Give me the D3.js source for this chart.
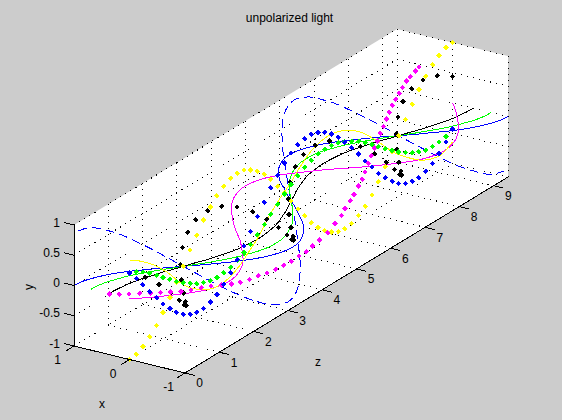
<!DOCTYPE html>
<html lang="en">
<head>
<meta charset="UTF-8">
<title>unpolarized light</title>
<script src="https://cdn.jsdelivr.net/npm/d3@7"></script>
<style>
  body { margin: 0; background: #cccccc; }
  svg { display: block; }
  text { font-family: "Liberation Sans", Arial, sans-serif; font-size: 12px; fill: #000; }
  .grid { stroke: #000; stroke-width: 1; stroke-dasharray: 1 5; shape-rendering: crispEdges; fill: none; }
  .axis { stroke: #000; stroke-width: 1; fill: none; shape-rendering: crispEdges; }
  .curve { fill: none; stroke-width: 1; shape-rendering: crispEdges; }
</style>
</head>
<body>
<div id="chart"></div>
<script>
// ticks
const xTicks = [-1, 0, 1];
const yTicks = [-1, -0.5, 0, 0.5, 1];
const zTicks = [0, 1, 2, 3, 4, 5, 6, 7, 8, 9];
const zMax = 9.42;

// sample positions along z shared by the marker series and most lines
const zGrid = [0,.2,.39,.59,.79,.98,1.18,1.37,1.57,1.77,1.96,2.16,2.36,2.55,2.75,2.95,3.14,3.34,3.53,3.73,3.93,4.12,4.32,4.52,4.71,4.91,5.11,5.3,5.5,5.69,5.89,6.09,6.28,6.48,6.68,6.87,7.07,7.26,7.46,7.66,7.85,8.05,8.25,8.44,8.64,8.84,9.03,9.23,9.42];

const zeros = [0,0,0,0,0,0,0,0,0,0,0,0,0,0,0,0,0,0,0,0,0,0,0,0,0,0,0,0,0,0,0,0,0,0,0,0,0,0,0,0,0,0,0,0,0,0,0,0,0];

// marker series
const blackDotsX = [0,-.16,-.29,-.38,-.41,-.38,-.29,-.16,0,.16,.29,.38,.41,.38,.29,.16,0,-.16,-.29,-.38,-.41,-.38,-.29,-.16,0,.16,.29,.38,.41,.38,.29,.16,0,-.16,-.29,-.38,-.41,-.38,-.29,-.16,0,.16,.29,.38,.41,.38,.29,.16,0];
const blackDotsY = [.44,.33,.17,-.02,-.2,-.35,-.45,-.48,-.44,-.33,-.17,.02,.2,.35,.45,.48,.44,.33,.17,-.02,-.2,-.35,-.45,-.48,-.44,-.33,-.17,.02,.2,.35,.45,.48,.44,.33,.17,-.02,-.2,-.35,-.45,-.48,-.44,-.33,-.17,.02,.2,.35,.45,.48,.44];
const yellowDotsY = [-1,-.98,-.92,-.83,-.71,-.56,-.38,-.2,0,.2,.38,.56,.71,.83,.92,.98,1,.98,.92,.83,.71,.56,.38,.2,0,-.2,-.38,-.56,-.71,-.83,-.92,-.98,-1,-.98,-.92,-.83,-.71,-.56,-.38,-.2,0,.2,.38,.56,.71,.83,.92,.98,1];
const magentaDotsX = [.36,.31,.25,.18,.11,.05,-.01,-.08,-.14,-.2,-.26,-.32,-.38,-.42,-.46,-.5,-.54,-.57,-.6,-.61,-.63,-.64,-.63,-.63,-.66,-.67,-.66,-.61,-.58,-.53,-.49,-.43,-.36,-.3,-.23,-.17,-.1,-.03,.03,.1,.17,.24,.3,.35,.42,.47,.52,.55,.6];
const magentaDotsY = [0,-.06,-.11,-.15,-.2,-.24,-.29,-.33,-.36,-.38,-.4,-.44,-.48,-.51,-.52,-.52,-.53,-.53,-.52,-.52,-.5,-.49,-.47,-.44,-.38,-.29,-.23,-.19,-.14,-.11,-.05,-.02,.02,.08,.12,.17,.2,.25,.28,.32,.35,.38,.4,.42,.43,.46,.45,.47,.46];
const greenDotsY = [.44,.38,.31,.22,.12,.02,-.08,-.18,-.27,-.35,-.42,-.47,-.51,-.52,-.51,-.49,-.44,-.38,-.31,-.22,-.12,-.02,.08,.18,.27,.35,.42,.47,.51,.52,.51,.49,.44,.38,.31,.22,.12,.02,-.08,-.18,-.27,-.35,-.42,-.47,-.51,-.52,-.51,-.49,-.44];
const blueDotsY = [.43,.27,.1,-.08,-.25,-.42,-.56,-.69,-.79,-.86,-.89,-.9,-.86,-.8,-.7,-.58,-.43,-.27,-.1,.08,.25,.42,.56,.69,.79,.86,.89,.9,.86,.8,.7,.58,.43,.27,.1,-.08,-.25,-.42,-.56,-.69,-.79,-.86,-.89,-.9,-.86,-.8,-.7,-.58,-.43];

// line series
const blueLineX = [1,.98,.92,.83,.71,.56,.38,.2,0,-.2,-.38,-.56,-.71,-.83,-.92,-.98,-1,-.98,-.92,-.83,-.71,-.56,-.38,-.2,0,.2,.38,.56,.71,.83,.92,.98,1,.98,.92,.83,.71,.56,.38,.2,0,-.2,-.38,-.56,-.71,-.83,-.92,-.98,-1];
const greenLineX = [.7,.69,.65,.58,.5,.39,.27,.14,0,-.14,-.27,-.39,-.5,-.58,-.65,-.69,-.7,-.69,-.65,-.58,-.5,-.39,-.27,-.14,0,.14,.27,.39,.5,.58,.65,.69,.7,.69,.65,.58,.5,.39,.27,.14,0,-.14,-.27,-.39,-.5,-.58,-.65,-.69,-.7];
const blackLineX = [.38,.37,.35,.32,.27,.21,.15,.07,0,-.07,-.15,-.21,-.27,-.32,-.35,-.37,-.38,-.37,-.35,-.32,-.27,-.21,-.15,-.07,0,.07,.15,.21,.27,.32,.35,.37,.38,.37,.35,.32,.27,.21,.15,.07,0,-.07,-.15,-.21,-.27,-.32,-.35,-.37,-.38];
const dashLineXY = [.92,.9,.85,.76,.65,.51,.35,.18,0,-.18,-.35,-.51,-.65,-.76,-.85,-.9,-.92,-.9,-.85,-.76,-.65,-.51,-.35,-.18,0,.18,.35,.51,.65,.76,.85,.9,.92,.9,.85,.76,.65,.51,.35,.18,0,-.18,-.35,-.51,-.65,-.76,-.85,-.9,-.92];
const magentaLineX = [0,-.17,-.32,-.46,-.59,-.69,-.76,-.81,-.83,-.81,-.76,-.69,-.59,-.46,-.32,-.17,0,.17,.32,.46,.59,.69,.76,.81,.83,.81,.76,.69,.59,.46,.32,.17,0,-.17,-.32,-.46,-.59,-.69,-.76,-.81,-.83,-.81,-.76,-.69,-.59,-.46,-.32,-.17,0];
const magentaLineY = [0,-.01,-.02,-.03,-.04,-.05,-.06,-.06,-.06,-.06,-.06,-.05,-.04,-.03,-.02,-.01,0,.01,.02,.03,.04,.05,.06,.06,.06,.06,.06,.05,.04,.03,.02,.01,0,-.01,-.02,-.03,-.04,-.05,-.06,-.06,-.06,-.06,-.06,-.05,-.04,-.03,-.02,-.01,0];
const yellowLineZ = [0,.31,.69,1.09,1.47,1.76,2.06,2.43,2.84,3.22,3.51,3.71,3.9,4.1,4.29,4.48,4.68,4.97,5.35,5.85,6.37,6.81,7.3,7.68,8.09,8.56,9.05,9.42];
const yellowLineY = [.645,.52,.33,.07,-.23,-.42,-.55,-.66,-.66,-.55,-.4,-.3,-.16,-.01,.1,.2,.29,.47,.64,.7,.6,.4,.07,-.21,-.44,-.65,-.74,-.64];

const width = 562, height = 420;
const svg = d3.select("#chart").append("svg").attr("width", width).attr("height", height);

// oblique view of the box: each data axis adds its own screen offset
const originX = 185, originY = 373;
const xToH = d3.scaleLinear().domain([-1, 1]).range([0, -111]);
const xToV = d3.scaleLinear().domain([-1, 1]).range([0, -27]);
const yToV = d3.scaleLinear().domain([-1, 1]).range([0, -121]);
const zToH = d3.scaleLinear().domain([0, zMax]).range([0, 323]);
const zToV = d3.scaleLinear().domain([0, zMax]).range([0, -196]);
const project = (x, y, z) => [originX + xToH(x) + zToH(z), originY + xToV(x) + yToV(y) + zToV(z)];

const path3d = d3.line().curve(d3.curveCatmullRom);
const straight = d3.line();

// white box silhouette
svg.append("path")
    .attr("fill", "#fff")
    .attr("d", straight([project(1, -1, 0), project(-1, -1, 0), project(-1, -1, zMax), project(-1, 1, zMax), project(1, 1, zMax), project(1, 1, 0)]) + "Z");

// dotted grid on the three back walls
const gridLines = [];
xTicks.forEach(x => {
    gridLines.push([project(x, -1, 0), project(x, -1, zMax)]);
    gridLines.push([project(x, -1, zMax), project(x, 1, zMax)]);
});
yTicks.forEach(y => {
    gridLines.push([project(1, y, 0), project(1, y, zMax)]);
    gridLines.push([project(1, y, zMax), project(-1, y, zMax)]);
});
zTicks.forEach(z => {
    gridLines.push([project(1, -1, z), project(-1, -1, z)]);
    gridLines.push([project(1, -1, z), project(1, 1, z)]);
});
svg.append("g").selectAll("path").data(gridLines).join("path")
    .attr("class", "grid")
    .attr("d", d => straight(d));

// lines
const lineSeries = [
    { color: "#0000ff", x: dashLineXY, y: dashLineXY, z: zGrid, dash: "9 5" },
    { color: "#0000ff", x: blueLineX, y: zeros, z: zGrid },
    { color: "#00ff00", x: greenLineX, y: zeros, z: zGrid },
    { color: "#000000", x: blackLineX, y: zeros, z: zGrid },
    { color: "#ff00ff", x: magentaLineX, y: magentaLineY, z: zGrid },
    { color: "#ffff00", x: zeros.slice(0, yellowLineZ.length), y: yellowLineY, z: yellowLineZ }
];
svg.append("g").selectAll("path").data(lineSeries).join("path")
    .attr("class", "curve")
    .attr("stroke", d => d.color)
    .attr("stroke-dasharray", d => d.dash || null)
    .attr("d", d => path3d(d.z.map((z, i) => project(d.x[i], d.y[i], z))));

// marker series
const dotSeries = [
    { color: "#000000", x: blackDotsX, y: blackDotsY },
    { color: "#ffff00", x: zeros, y: yellowDotsY },
    { color: "#ff00ff", x: magentaDotsX, y: magentaDotsY },
    { color: "#00ff00", x: zeros, y: greenDotsY },
    { color: "#0000ff", x: zeros, y: blueDotsY }
];
const diamond = d3.symbol().type(d3.symbolSquare).size(15)();
dotSeries.forEach(s => {
    svg.append("g").attr("fill", s.color).selectAll("path").data(zGrid).join("path")
        .attr("d", diamond)
        .attr("shape-rendering", "crispEdges")
        .attr("transform", (z, i) => {
            const p = project(s.x[i], s.y[i], z);
            return "translate(" + p[0] + "," + p[1] + ") rotate(45)";
        });
});

// solid axes and ticks
const axisLines = [
    [project(1, -1, 0), project(1, 1, 0)],
    [project(1, -1, 0), project(-1, -1, 0)],
    [project(-1, -1, 0), project(-1, -1, zMax)]
];
const tickLen = { x: [-8.5, 5.2], y: [-9.7, -2.4], z: [9.7, 2.4] };
yTicks.forEach(y => {
    const p = project(1, y, 0);
    axisLines.push([p, [p[0] + tickLen.y[0], p[1] + tickLen.y[1]]]);
    svg.append("text").attr("x", 60).attr("y", p[1] + tickLen.y[1] + 4).attr("text-anchor", "end").text(y);
});
xTicks.forEach(x => {
    const p = project(x, -1, 0);
    axisLines.push([p, [p[0] + tickLen.x[0], p[1] + tickLen.x[1]]]);
    svg.append("text").attr("x", p[0] + tickLen.x[0] - 8).attr("y", p[1] + tickLen.x[1] + 13)
        .attr("text-anchor", "middle").text(x);
});
zTicks.forEach(z => {
    const p = project(-1, -1, z);
    axisLines.push([p, [p[0] + tickLen.z[0], p[1] + tickLen.z[1]]]);
    svg.append("text").attr("x", p[0] + tickLen.z[0] + 5).attr("y", p[1] + tickLen.z[1] + 12)
        .attr("text-anchor", "middle").text(z);
});
svg.append("g").selectAll("path").data(axisLines).join("path")
    .attr("class", "axis")
    .attr("d", d => straight(d));

// titles
svg.append("text").attr("x", 289.5).attr("y", 22).attr("text-anchor", "middle").text("unpolarized light");
svg.append("text").attr("x", 102).attr("y", 408).attr("text-anchor", "middle").text("x");
svg.append("text").attr("x", 318).attr("y", 366).attr("text-anchor", "middle").text("z");
svg.append("text").attr("transform", "translate(33,287) rotate(-90)").attr("text-anchor", "middle").text("y");
</script>
</body>
</html>
